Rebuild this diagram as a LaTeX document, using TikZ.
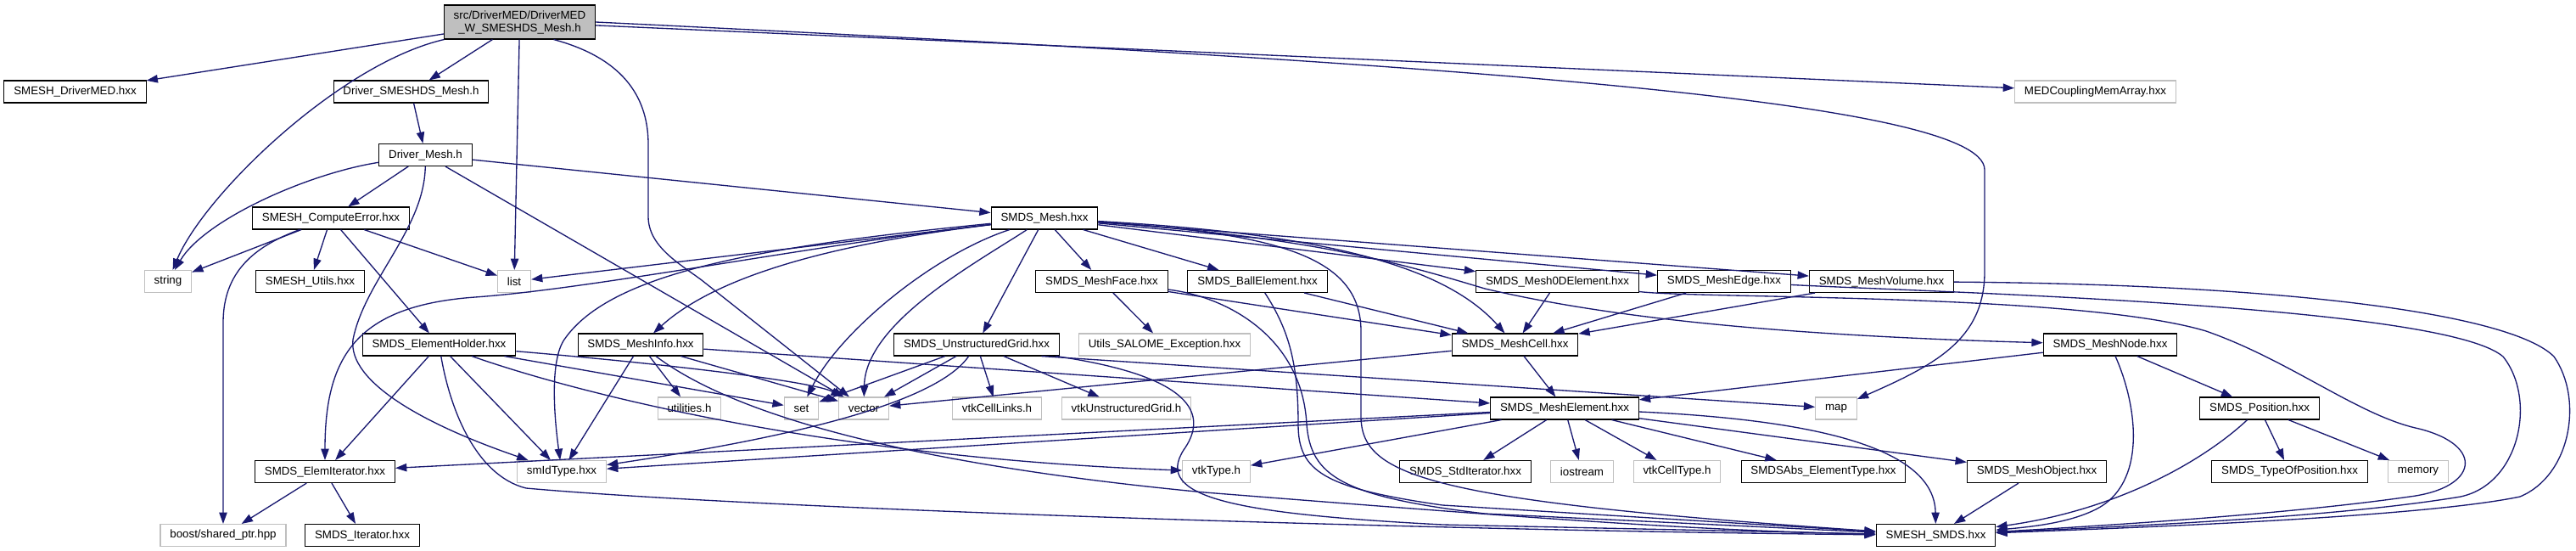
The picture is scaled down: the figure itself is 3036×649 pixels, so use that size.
\documentclass[tikz,border=0pt]{standalone}
\usepackage{fontspec}
\setmainfont{Liberation Sans}
\usetikzlibrary{arrows.meta}
\definecolor{edgeblue}{HTML}{191970}
\definecolor{extgray}{HTML}{BFBFBF}
\definecolor{rootgray}{HTML}{BFBFBF}

\begin{document}
\begin{tikzpicture}[x=0.75pt,y=-0.75pt,>={Triangle[length=10pt,width=7pt]},
 file/.style={draw=black,fill=white,line width=0.8pt,inner xsep=8.5pt,
 inner ysep=0pt,minimum height=19.5pt,font=\fontsize{10}{11.25}\selectfont},
 ext/.style={file,draw=extgray},
 mainfile/.style={file,fill=rootgray,align=center,minimum height=30pt},
 dep/.style={->,draw=edgeblue,line width=1pt}]
\useasboundingbox (0,0) rectangle (3036,649);

% rows of the graph
\node[mainfile] (main) at (612.5,26) {src/DriverMED/DriverMED\\\_W\_SMESHDS\_Mesh.h};

\node[file] (drvmed) at (88.5,108) {SMESH\_DriverMED.hxx};
\node[file] (drvsmeshds) at (484.5,108) {Driver\_SMESHDS\_Mesh.h};
\node[ext] (medarray) at (2469.5,108) {MEDCouplingMemArray.hxx};

\node[file] (drvmesh) at (501.5,182.5) {Driver\_Mesh.h};

\node[file] (comperr) at (390,257) {SMESH\_ComputeError.hxx};
\node[file] (smdsmesh) at (1231,257) {SMDS\_Mesh.hxx};

\node[ext] (string) at (198,331.5) {string};
\node[file] (utils) at (365.5,331.5) {SMESH\_Utils.hxx};
\node[ext] (list) at (606,331.5) {list};
\node[file] (face) at (1298.5,331.5) {SMDS\_MeshFace.hxx};
\node[file] (ball) at (1482,331.5) {SMDS\_BallElement.hxx};
\node[file] (zerod) at (1835.5,331.5) {SMDS\_Mesh0DElement.hxx};
\node[file] (edge) at (2032,331.5) {SMDS\_MeshEdge.hxx};
\node[file] (volume) at (2217.5,331.5) {SMDS\_MeshVolume.hxx};

\node[file] (holder) at (517.5,406) {SMDS\_ElementHolder.hxx};
\node[file] (info) at (755,406) {SMDS\_MeshInfo.hxx};
\node[file] (ugrid) at (1151,406) {SMDS\_UnstructuredGrid.hxx};
\node[ext] (salome) at (1372.5,406) {Utils\_SALOME\_Exception.hxx};
\node[file] (cell) at (1785.5,406) {SMDS\_MeshCell.hxx};
\node[file] (node) at (2487,406) {SMDS\_MeshNode.hxx};

\node[ext] (utilities) at (812.5,481) {utilities.h};
\node[ext] (set) at (944.5,481) {set};
\node[ext] (vector) at (1018,481) {vector};
\node[ext] (celllinks) at (1175,481) {vtkCellLinks.h};
\node[ext] (vtkugrid) at (1327.5,481) {vtkUnstructuredGrid.h};
\node[file] (elem) at (1844,481) {SMDS\_MeshElement.hxx};
\node[ext] (map) at (2164,481) {map};
\node[file] (position) at (2663,481) {SMDS\_Position.hxx};

\node[file] (elemit) at (383,555.5) {SMDS\_ElemIterator.hxx};
\node[ext] (smid) at (662,555.5) {smIdType.hxx};
\node[ext] (vtktype) at (1433.5,555.5) {vtkType.h};
\node[file] (stditer) at (1727,555.5) {SMDS\_StdIterator.hxx};
\node[ext] (iostream) at (1864.5,555.5) {iostream};
\node[ext] (celltype) at (1976.5,555.5) {vtkCellType.h};
\node[file] (abstype) at (2149,555.5) {SMDSAbs\_ElementType.hxx};
\node[file] (meshobj) at (2400.5,555.5) {SMDS\_MeshObject.hxx};
\node[file] (typeofpos) at (2698.5,555.5) {SMDS\_TypeOfPosition.hxx};
\node[ext] (memory) at (2850,555.5) {memory};

\node[ext] (boost) at (263,630.5) {boost/shared\_ptr.hpp};
\node[file] (iterator) at (427,630.5) {SMDS\_Iterator.hxx};
\node[file] (smesh) at (2281.5,630.5) {SMESH\_SMDS.hxx};

% includes of the main header
\draw[dep] (main) -- (drvmed);
\draw[dep] (main) -- (drvsmeshds);
\draw[dep] (main) .. controls (400,75) and (240,230) .. (string);
\draw[dep] (main) -- (list);
\draw[dep] ([xshift=30pt]main.south) .. controls (740,70) and (764,120) .. (764,170)
 -- (764,255) .. controls (764,290) and (800,310) .. (827,330) -- (vector);
\draw[dep] (main) -- (medarray);
\draw[dep] (main.east) .. controls (1650,72) and (2339,115) .. (2339,200)
 -- (2339,320) .. controls (2339,400) and (2280,430) .. (map);

\draw[dep] (drvsmeshds) -- (drvmesh);

% Driver_Mesh.h
\draw[dep] (drvmesh) .. controls (360,205) and (240,260) .. (string);
\draw[dep] (drvmesh) -- (comperr);
\draw[dep] (drvmesh) .. controls (500,270) and (430,330) .. (416,400)
 .. controls (410,450) and (500,500) .. (smid);
\draw[dep] (drvmesh) -- (vector);
\draw[dep] (drvmesh) -- (smdsmesh);

% SMESH_ComputeError.hxx
\draw[dep] (comperr) -- (string);
\draw[dep] (comperr) -- (utils);
\draw[dep] (comperr) -- (list);
\draw[dep] (comperr) -- (holder);
\draw[dep] (comperr) .. controls (300,290) and (263,320) .. (263,380) -- (boost);

% SMDS_Mesh.hxx
\draw[dep] (smdsmesh) -- (list);
\draw[dep] (smdsmesh) .. controls (1000,285) and (850,320) .. (info);
\draw[dep] (smdsmesh) .. controls (950,290) and (700,340) .. (560,350)
 .. controls (420,360) and (383,420) .. (elemit);
\draw[dep] (smdsmesh) .. controls (900,290) and (720,320) .. (665,400)
 .. controls (648,425) and (653,490) .. (smid);
\draw[dep] (smdsmesh) .. controls (1100,300) and (990,390) .. (set);
\draw[dep] (smdsmesh) .. controls (1150,310) and (1020,380) .. (vector);
\draw[dep] (smdsmesh) -- (ugrid);
\draw[dep] (smdsmesh) -- (face);
\draw[dep] (smdsmesh) -- (ball);
\draw[dep] (smdsmesh) -- (zerod);
\draw[dep] (smdsmesh) -- (edge);
\draw[dep] (smdsmesh) -- (volume);
\draw[dep] (smdsmesh) .. controls (1550,275) and (1700,310) .. (cell);
\draw[dep] (smdsmesh) .. controls (1550,280) and (1650,310) .. (1750,340)
 .. controls (1900,375) and (2100,395) .. (node);
\draw[dep] (smdsmesh) .. controls (1500,275) and (1604,300) .. (1604,390)
 -- (1604,490) .. controls (1604,560) and (1680,590) .. (smesh);

% SMDS_ElementHolder.hxx
\draw[dep] (holder) -- (elemit);
\draw[dep] (holder) -- (smid);
\draw[dep] (holder) -- (set);
\draw[dep] (holder) .. controls (800,430) and (960,450) .. (vector);
\draw[dep] (holder) .. controls (700,470) and (1000,540) .. (vtktype);
\draw[dep] (holder) .. controls (530,480) and (560,560) .. (620,575)
 .. controls (900,600) and (1700,625) .. (smesh);

% SMDS_MeshInfo.hxx
\draw[dep] (info) -- (utilities);
\draw[dep] (info) -- (vector);
\draw[dep] (info) -- (smid);
\draw[dep] (info) -- (elem);
\draw[dep] (info) .. controls (840,470) and (1000,540) .. (1420,580)
 .. controls (1800,610) and (2000,625) .. (smesh);

% SMDS_UnstructuredGrid.hxx
\draw[dep] (ugrid) -- (celllinks);
\draw[dep] (ugrid) -- (vtkugrid);
\draw[dep] (ugrid) -- (set);
\draw[dep] (ugrid) -- (vector);
\draw[dep] (ugrid) .. controls (1100,480) and (900,520) .. (smid);
\draw[dep] ([xshift=-16pt]ugrid.south east) -- (map);
\draw[dep] (ugrid) .. controls (1420,445) and (1420,495) .. (1395,530)
 .. controls (1360,585) and (1450,605) .. (1700,618) -- (smesh);

% cell types
\draw[dep] (face) -- (salome);
\draw[dep] (face) -- (cell);
\draw[dep] (face) .. controls (1450,350) and (1535,400) .. (1540,500)
 .. controls (1545,560) and (1580,585) .. (1750,605) -- (smesh);
\draw[dep] (ball) -- (cell);
\draw[dep] (ball) .. controls (1520,390) and (1530,430) .. (1530,500)
 .. controls (1530,555) and (1560,575) .. (1700,595) -- (smesh);
\draw[dep] (zerod) -- (cell);
\draw[dep] (edge) -- (cell);
\draw[dep] (volume) -- (cell);
\draw[dep] (zerod) .. controls (2000,352) and (2450,345) .. (2600,390)
 .. controls (2700,425) and (2780,490) .. (2851,505)
 .. controls (2930,525) and (2920,575) .. (2840,585)
 .. controls (2700,605) and (2500,618) .. (smesh);
\draw[dep] (edge) .. controls (2300,345) and (2880,360) .. (2950,420)
 .. controls (2990,470) and (2970,570) .. (2900,585)
 .. controls (2750,610) and (2500,620) .. (smesh);
\draw[dep] (volume) .. controls (2700,335) and (2960,370) .. (3010,420)
 .. controls (3045,470) and (3030,560) .. (2970,585)
 .. controls (2850,610) and (2500,622) .. (smesh);

% SMDS_MeshCell.hxx and SMDS_MeshNode.hxx
\draw[dep] (cell) -- (elem);
\draw[dep] (cell) -- (vector);
\draw[dep] (node) -- (elem);
\draw[dep] (node) -- (position);
\draw[dep] (node) .. controls (2520,480) and (2530,570) .. (2470,600)
 .. controls (2440,615) and (2400,620) .. (smesh);

% SMDS_MeshElement.hxx
\draw[dep] (elem) -- (stditer);
\draw[dep] (elem) -- (iostream);
\draw[dep] (elem) -- (celltype);
\draw[dep] (elem) -- (abstype);
\draw[dep] (elem) -- (meshobj);
\draw[dep] (elem) -- (vtktype);
\draw[dep] (elem) -- (elemit);
\draw[dep] (elem) -- (smid);
\draw[dep] (elem) .. controls (2150,495) and (2280,530) .. (smesh);

% the rest
\draw[dep] (position) -- (typeofpos);
\draw[dep] (position) -- (memory);
\draw[dep] (position) .. controls (2600,540) and (2500,600) .. (smesh);
\draw[dep] (meshobj) -- (smesh);
\draw[dep] (elemit) -- (boost);
\draw[dep] (elemit) -- (iterator);
\end{tikzpicture}
\end{document}
